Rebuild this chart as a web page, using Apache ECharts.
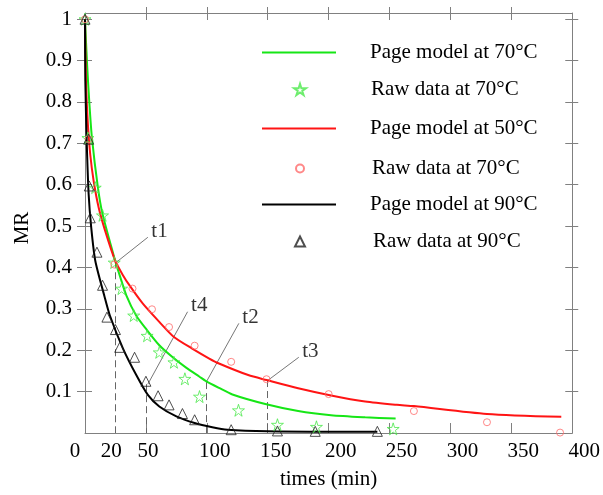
<!DOCTYPE html>
<html><head><meta charset="utf-8">
<script src="https://cdn.jsdelivr.net/npm/echarts@6/dist/echarts.min.js"></script>
<style>html,body{margin:0;padding:0;background:#fff}#c{width:603px;height:495px}</style>
</head><body><div id="c"></div>
<script>
// ---- tick values ----
const xTickLabels = [0, 20, 50, 100, 150, 200, 250, 300, 350, 400];
const xBottomTicks = [50, 100, 150, 200, 250, 300, 350, 400];
const xTopTicks = [50, 100, 150, 200, 250, 300, 350];
const yTickLabels = [0.1, 0.2, 0.3, 0.4, 0.5, 0.6, 0.7, 0.8, 0.9, 1];

// ---- Page model at 70°C (green line) ----
const model70T  = [0, 1.6, 3.5, 5.7, 10.6, 14.4, 24.7, 28.5, 34, 42, 50, 61, 72, 83, 94, 99, 110, 121, 148, 175, 202, 230, 255];
const model70MR = [1, 0.897, 0.801, 0.713, 0.593, 0.529, 0.417, 0.381, 0.332, 0.284, 0.252, 0.212, 0.183, 0.158, 0.136, 0.126, 0.109, 0.093, 0.07, 0.053, 0.043, 0.038, 0.035];
// ---- Raw data at 70°C (green stars) ----
const raw70T  = [0, 2.4, 8.4, 14.4, 24, 30, 40, 51, 61, 73, 82, 94, 126, 158, 190, 253];
const raw70MR = [1, 0.713, 0.593, 0.526, 0.412, 0.349, 0.284, 0.235, 0.195, 0.171, 0.131, 0.088, 0.055, 0.02, 0.015, 0.01];
// ---- Page model at 50°C (red line) ----
const model50T  = [0, 0.8, 2.4, 4.3, 7.1, 11.2, 16.5, 24.7, 31, 36.7, 47.5, 61, 73, 88, 102, 110, 134, 149, 175, 202, 230, 256, 270, 330, 391];
const model50MR = [1, 0.85, 0.745, 0.673, 0.609, 0.545, 0.489, 0.417, 0.382, 0.356, 0.3125, 0.2685, 0.232, 0.204, 0.18, 0.168, 0.14, 0.128, 0.108, 0.0906, 0.076, 0.068, 0.065, 0.046, 0.039];
// ---- Raw data (red circles) ----
const raw50T  = [0, 3, 24, 39, 55, 69, 90, 120, 149, 200, 270, 330, 390];
const raw50MR = [1, 0.71, 0.407, 0.349, 0.299, 0.256, 0.211, 0.172, 0.13, 0.094, 0.053, 0.026, 0.001];
// ---- Page model at 90°C (black line) ----
const model90T  = [0, 0.27, 1.4, 3, 5.1, 8.4, 16, 20.4, 31.2, 42.1, 51.6, 61, 75, 90, 104.5, 117, 150, 200, 240];
const model90MR = [1, 0.85, 0.705, 0.577, 0.497, 0.417, 0.33, 0.284, 0.204, 0.14, 0.092, 0.064, 0.04, 0.024, 0.014, 0.008, 0.004, 0.003, 0.003];
// ---- Raw data at 90°C (black triangles) ----
const raw90T  = [0, 3, 3.5, 4.3, 9.8, 14.4, 18, 25, 28.5, 40.7, 50, 60, 69, 80, 90, 120, 158, 189, 240];
const raw90MR = [1, 0.71, 0.597, 0.52, 0.437, 0.357, 0.28, 0.25, 0.207, 0.183, 0.125, 0.09, 0.068, 0.047, 0.032, 0.008, 0.005, 0.004, 0.004];

// ---- annotations t1..t4 ----
const annotNames = ['t1', 't4', 't2', 't3'];
const annotT  = [24.7, 50, 99.5, 150];
const annotMR = [0.415, 0.118, 0.123, 0.128];
const leaderStartT  = [26.3, 51.6, 99.5, 150.5];
const leaderStartMR = [0.414, 0.118, 0.123, 0.128];
const leaderEndT  = [51.6, 84.2, 126.3, 175.5];
const leaderEndMR = [0.473, 0.293, 0.265, 0.183];

const zip = (a, b) => a.map((v, i) => [v, b[i]]);
const FONT = 'Liberation Serif';
const AX = '#808080';
const GREEN = '#16e616', GREEN_S = '#4ae84a', RED = '#ff1414', RED_C = '#ff6a6a';
const STAR = 'path://M50,0 L61,35 L98,35 L68,57 L79,91 L50,70 L21,91 L32,57 L2,35 L39,35 Z';

const baseAxis = {
  type: 'value', splitLine: { show: false }, axisLabel: { show: false },
  axisTick: { show: false }, axisLine: { show: false, onZero: false }
};
const xBase = Object.assign({}, baseAxis, { min: 0, max: 400 });
const yBase = Object.assign({}, baseAxis, { min: 0, max: 1.015 });
const line = () => ({ show: true, onZero: false, lineStyle: { color: AX, width: 1 } });
const noLine = () => ({ show: false, onZero: false });

const xAxes = [
  Object.assign({}, xBase, {
    position: 'bottom',
    axisLine: line(),
    axisTick: { show: true, inside: true, length: 10, customValues: xBottomTicks, lineStyle: { color: AX } },
    axisLabel: {
      show: true, customValues: xTickLabels, margin: 8, color: '#000',
      fontFamily: FONT, fontSize: 21,
      formatter: v => v === 0 ? '{s0|0}' : v <= 50 ? '{s1|' + v + '}' : v <= 150 ? '{s2|' + v + '}' : '{s3|' + v + '}',
      rich: {
        s0: { fontFamily: FONT, fontSize: 21, color: '#000', padding: [0, 20, 0, 0] },
        s1: { fontFamily: FONT, fontSize: 21, color: '#000', padding: [0, 0, 0, 4] },
        s2: { fontFamily: FONT, fontSize: 21, color: '#000', padding: [0, 0, 0, 16] },
        s3: { fontFamily: FONT, fontSize: 21, color: '#000', padding: [0, 0, 0, 24] }
      }
    },
    name: 'times (min)', nameLocation: 'middle', nameGap: 36,
    nameTextStyle: { fontFamily: FONT, fontSize: 21, color: '#000' }
  }),
  Object.assign({}, xBase, {
    position: 'top',
    axisLine: line(),
    axisTick: { show: true, inside: true, length: 7, customValues: xTopTicks, lineStyle: { color: AX } }
  }),
  Object.assign({}, xBase, {
    position: 'top',
    axisLine: noLine(),
    axisTick: { show: true, inside: false, length: 6, customValues: xTopTicks, lineStyle: { color: AX } }
  })
];

const yAxes = [
  Object.assign({}, yBase, {
    position: 'left',
    axisLine: line(),
    axisTick: { show: true, inside: false, length: 8, customValues: yTickLabels, lineStyle: { color: AX } },
    axisLabel: { show: true, customValues: yTickLabels, margin: 13, color: '#000', fontFamily: FONT, fontSize: 21 },
    name: 'MR', nameLocation: 'middle', nameGap: 52,
    nameTextStyle: { fontFamily: FONT, fontSize: 21, color: '#000', padding: [0, 10, 0, 0] }
  }),
  Object.assign({}, yBase, {
    position: 'left',
    axisLine: noLine(),
    axisTick: { show: true, inside: true, length: 7, customValues: yTickLabels, lineStyle: { color: AX } }
  }),
  Object.assign({}, yBase, {
    position: 'right',
    axisLine: line(),
    axisTick: { show: true, inside: true, length: 7, customValues: yTickLabels, lineStyle: { color: AX } }
  }),
  Object.assign({}, yBase, {
    position: 'right',
    axisLine: noLine(),
    axisTick: { show: true, inside: false, length: 6, customValues: yTickLabels, lineStyle: { color: AX } }
  })
];

function legendRow(name, left, top, w, h, icon, textPad) {
  const row = {
    data: [name], left: left, top: top, orient: 'vertical', padding: 0,
    itemWidth: w, itemHeight: h, selectedMode: false,
    textStyle: { fontFamily: FONT, fontSize: 21, color: '#000', padding: [0, 0, 0, textPad] }
  };
  if (icon) row.icon = icon;
  return row;
}

const lineSeries = (name, t, mr, color) => ({
  name: name, type: 'line', data: zip(t, mr), symbol: 'none', smooth: 0.25,
  lineStyle: { color: color, width: 2 }, itemStyle: { color: color }, z: 3
});
const scatterSeries = (name, t, mr, symbol, size, color) => ({
  name: name, type: 'scatter', data: zip(t, mr), symbol: symbol, symbolSize: size,
  itemStyle: { color: 'rgba(255,255,255,0)', borderColor: color, borderWidth: 1 }, z: 4
});

const option = {
  animation: false,
  backgroundColor: '#fff',
  grid: { left: 85, right: 26, top: 13, bottom: 60, containLabel: false },
  xAxis: xAxes,
  yAxis: yAxes,
  legend: [
    legendRow('Page model at 70°C', 262, 42, 74, 2, 'rect', 29),
    legendRow('Raw data at 70°C', 293, 79, 12, 12, null, 60),
    legendRow('Page model at 50°C', 262, 118, 74, 2, 'rect', 29),
    legendRow('Raw data at 70°C ', 295, 158, 8, 8, null, 63),
    legendRow('Page model at 90°C', 262, 194, 74, 2, 'rect', 29),
    legendRow('Raw data at 90°C', 294, 231, 10, 10, null, 63)
  ],
  series: [
    {
      type: 'lines', coordinateSystem: 'cartesian2d', polyline: false, silent: true, z: 2,
      lineStyle: { color: '#666', width: 1, type: [7, 4], opacity: 1 },
      data: annotT.map((t, i) => ({ coords: [[t, annotMR[i]], [t, 0]] }))
    },
    {
      type: 'lines', coordinateSystem: 'cartesian2d', polyline: false, silent: true, z: 2,
      lineStyle: { color: '#777', width: 1, type: 'solid', opacity: 1 },
      data: leaderStartT.map((t, i) => ({ coords: [[t, leaderStartMR[i]], [leaderEndT[i], leaderEndMR[i]]] }))
    },
    {
      type: 'scatter', silent: true, symbolSize: 1, itemStyle: { color: 'rgba(0,0,0,0)' }, z: 5,
      label: { show: true, position: 'right', distance: 3, offset: [0, -6], formatter: '{b}',
               fontFamily: FONT, fontSize: 21, color: '#000' },
      data: leaderEndT.map((t, i) => ({ name: annotNames[i], value: [t, leaderEndMR[i]] }))
    },
    lineSeries('Page model at 70°C', model70T, model70MR, GREEN),
    scatterSeries('Raw data at 70°C', raw70T, raw70MR, STAR, 12, GREEN_S),
    lineSeries('Page model at 50°C', model50T, model50MR, RED),
    scatterSeries('Raw data at 70°C ', raw50T, raw50MR, 'circle', 7, RED_C),
    lineSeries('Page model at 90°C', model90T, model90MR, '#000'),
    scatterSeries('Raw data at 90°C', raw90T, raw90MR, 'triangle', 10, '#222')
  ]
};

const chart = echarts.init(document.getElementById('c'), null, { renderer: 'canvas' });
chart.setOption(option);
</script>
</body></html>
